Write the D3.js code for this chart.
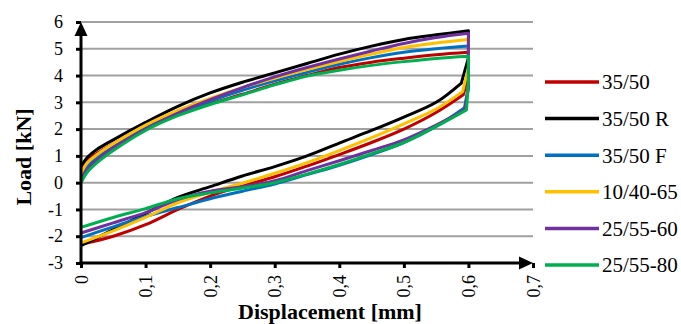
<!DOCTYPE html>
<html lang="en">
<head>
    <meta charset="UTF-8">
    <title>Load vs Displacement</title>
    <script src="https://d3js.org/d3.v7.min.js"></script>
    <style>
        body { margin: 0; background: #fff; }
        .tick-label { font-size: 18px; }
        .legend-label { font-size: 21px; }
        .axis-title { font-size: 22px; font-weight: bold; }
    </style>
</head>
<body>
    <div id="chart"></div>
    <script>
        const serif = "'Liberation Serif', 'Times New Roman', serif";

        // series names and colours
        const seriesNames = ["35/50", "35/50 R", "35/50 F", "10/40-65", "25/55-60", "25/55-80"];
        const seriesColors = ["#c00000", "#000000", "#0070c0", "#ffc000", "#7030a0", "#00b050"];

        // loading branch, displacement in mm
        const upperX = [0, 0.01, 0.025, 0.05, 0.1, 0.15, 0.2, 0.25, 0.3, 0.35, 0.4, 0.45, 0.5, 0.55, 0.6];
        const upperRed    = [0.5, 0.85, 1.1, 1.45, 2.05, 2.55, 2.95, 3.3, 3.68, 4.0, 4.3, 4.5, 4.65, 4.78, 4.87];
        const upperBlack  = [0.6, 0.95, 1.25, 1.6, 2.25, 2.85, 3.35, 3.75, 4.1, 4.45, 4.8, 5.1, 5.35, 5.52, 5.67];
        const upperBlue   = [0.2, 0.6, 0.95, 1.35, 2.05, 2.6, 3.05, 3.45, 3.8, 4.12, 4.42, 4.67, 4.87, 5.0, 5.1];
        const upperYellow = [0.35, 0.75, 1.05, 1.45, 2.15, 2.7, 3.15, 3.55, 3.9, 4.22, 4.52, 4.8, 5.05, 5.22, 5.35];
        const upperPurple = [0.1, 0.5, 0.85, 1.3, 2.0, 2.6, 3.1, 3.55, 3.95, 4.3, 4.62, 4.92, 5.2, 5.42, 5.58];
        const upperGreen  = [0.0, 0.4, 0.75, 1.2, 1.95, 2.5, 2.92, 3.28, 3.65, 3.98, 4.2, 4.38, 4.52, 4.64, 4.72];

        // unloading branch: drop at 0.6, corner, then back to 0
        const dropX = 0.6;
        const dropRed = 4.0, dropBlack = 4.66, dropBlue = 3.6, dropYellow = 4.3, dropPurple = 3.5, dropGreen = 3.8;
        const cornerX = [0.592, 0.589, 0.594, 0.591, 0.594, 0.597];
        const lowerX = [null, 0.55, 0.5, 0.45, 0.4, 0.35, 0.3, 0.25, 0.2, 0.15, 0.1, 0.05, 0];
        const lowerRed    = [3.28, 2.62, 2.0, 1.5, 1.05, 0.62, 0.22, -0.12, -0.5, -1.0, -1.57, -2.0, -2.3];
        const lowerBlack  = [3.72, 3.0, 2.45, 1.95, 1.48, 1.0, 0.6, 0.25, -0.15, -0.55, -1.15, -1.75, -2.35];
        const lowerBlue   = [2.8, 2.1, 1.5, 1.05, 0.65, 0.3, -0.05, -0.32, -0.6, -0.93, -1.26, -1.65, -2.05];
        const lowerYellow = [3.4, 2.75, 2.2, 1.68, 1.2, 0.75, 0.35, -0.02, -0.35, -0.75, -1.3, -1.8, -2.25];
        const lowerPurple = [2.72, 2.15, 1.6, 1.2, 0.82, 0.45, 0.07, -0.15, -0.32, -0.63, -1.12, -1.5, -1.88];
        const lowerGreen  = [2.72, 2.1, 1.5, 1.08, 0.68, 0.32, 0.0, -0.2, -0.38, -0.6, -0.97, -1.3, -1.67];

        const xTicks = [0, 0.1, 0.2, 0.3, 0.4, 0.5, 0.6, 0.7];
        const yTicks = [-3, -2, -1, 0, 1, 2, 3, 4, 5, 6];

        const uppers = [upperRed, upperBlack, upperBlue, upperYellow, upperPurple, upperGreen];
        const drops = [dropRed, dropBlack, dropBlue, dropYellow, dropPurple, dropGreen];
        const lowers = [lowerRed, lowerBlack, lowerBlue, lowerYellow, lowerPurple, lowerGreen];

        const width = 681, height = 324;
        const svg = d3.select("#chart").append("svg")
            .attr("width", width)
            .attr("height", height);

        const x = d3.scaleLinear().domain([0, 0.7]).range([81, 533]);
        const y = d3.scaleLinear().domain([-3, 6]).range([263, 22]);

        const comma = d => String(d).replace(".", ",");

        // gridlines
        svg.append("g").selectAll("line")
            .data(yTicks.filter(d => d > -3))
            .enter().append("line")
            .attr("x1", x(0)).attr("x2", x(0.7))
            .attr("y1", d => y(d)).attr("y2", d => y(d))
            .attr("stroke", "#a0a0a0")
            .attr("stroke-width", 2);

        // y axis ticks + labels
        const yAxis = svg.append("g")
            .attr("transform", `translate(${x(0)},0)`)
            .call(d3.axisLeft(y).tickValues(yTicks).tickSize(5).tickPadding(13).tickFormat(d => d));
        yAxis.attr("font-family", serif).attr("font-size", null);
        yAxis.select(".domain").remove();
        yAxis.selectAll(".tick line").attr("stroke", "#000").attr("stroke-width", 3);
        yAxis.selectAll(".tick text").attr("class", "tick-label").attr("fill", "#000");

        // x axis ticks + rotated labels
        const xAxis = svg.append("g")
            .attr("transform", `translate(0,${y(-3)})`)
            .call(d3.axisBottom(x).tickValues(xTicks).tickSize(5).tickFormat(comma));
        xAxis.attr("font-family", serif).attr("font-size", null);
        xAxis.select(".domain").remove();
        xAxis.selectAll(".tick line").attr("stroke", "#000").attr("stroke-width", 3);
        xAxis.selectAll(".tick text")
            .attr("class", "tick-label")
            .attr("fill", "#000")
            .attr("y", 0).attr("dy", null)
            .attr("text-anchor", "end")
            .attr("transform", "translate(6,12) rotate(-90)");

        // series paths: smooth branches joined by straight drops at 0.6
        const line = d3.line()
            .x(d => x(d[0]))
            .y(d => y(d[1]))
            .curve(d3.curveCatmullRom.alpha(0.5));

        const loops = seriesNames.map((name, i) => {
            const up = upperX.map((v, j) => [v, uppers[i][j]]);
            const down = lowerX.map((v, j) => [v === null ? cornerX[i] : v, lowers[i][j]]);
            return { name: name, color: seriesColors[i], up: up, drop: [dropX, drops[i]], down: down };
        });

        svg.append("g").selectAll("path")
            .data(loops)
            .enter().append("path")
            .attr("d", d => line(d.up) + "L" + x(d.drop[0]) + "," + y(d.drop[1]) + "L" + line(d.down).slice(1))
            .attr("fill", "none")
            .attr("stroke", d => d.color)
            .attr("stroke-width", 3)
            .attr("stroke-linejoin", "round");

        // axis lines with arrows
        const ah = 14, aw = 6.5;
        svg.append("line")
            .attr("x1", x(0)).attr("x2", x(0))
            .attr("y1", y(-3) + 1.5).attr("y2", y(6) + ah - 1)
            .attr("stroke", "#000").attr("stroke-width", 3);
        svg.append("path")
            .attr("d", `M${x(0)},${y(6)}L${x(0) - aw},${y(6) + ah}L${x(0) + aw},${y(6) + ah}Z`)
            .attr("fill", "#000");
        svg.append("line")
            .attr("x1", x(0) - 1.5).attr("x2", x(0.7) - ah + 1)
            .attr("y1", y(-3)).attr("y2", y(-3))
            .attr("stroke", "#000").attr("stroke-width", 3);
        svg.append("path")
            .attr("d", `M${x(0.7)},${y(-3)}L${x(0.7) - ah},${y(-3) - aw}L${x(0.7) - ah},${y(-3) + aw}Z`)
            .attr("fill", "#000");

        // axis titles
        svg.append("text")
            .attr("class", "axis-title")
            .attr("font-family", serif)
            .attr("text-anchor", "middle")
            .attr("transform", "translate(23,157) rotate(-90)")
            .attr("dy", "0.35em")
            .text("Load [kN]");
        svg.append("text")
            .attr("class", "axis-title")
            .attr("font-family", serif)
            .attr("text-anchor", "middle")
            .attr("x", 330).attr("y", 319)
            .text("Displacement [mm]");

        // legend
        const legend = svg.append("g").selectAll("g")
            .data(loops)
            .enter().append("g")
            .attr("transform", (d, i) => `translate(545,${82 + i * 36.6})`);
        legend.append("line")
            .attr("x1", 0).attr("x2", 54)
            .attr("stroke", d => d.color)
            .attr("stroke-width", 3.5);
        legend.append("text")
            .attr("class", "legend-label")
            .attr("font-family", serif)
            .attr("x", 57).attr("dy", "0.35em")
            .text(d => d.name);
    </script>
</body>
</html>
